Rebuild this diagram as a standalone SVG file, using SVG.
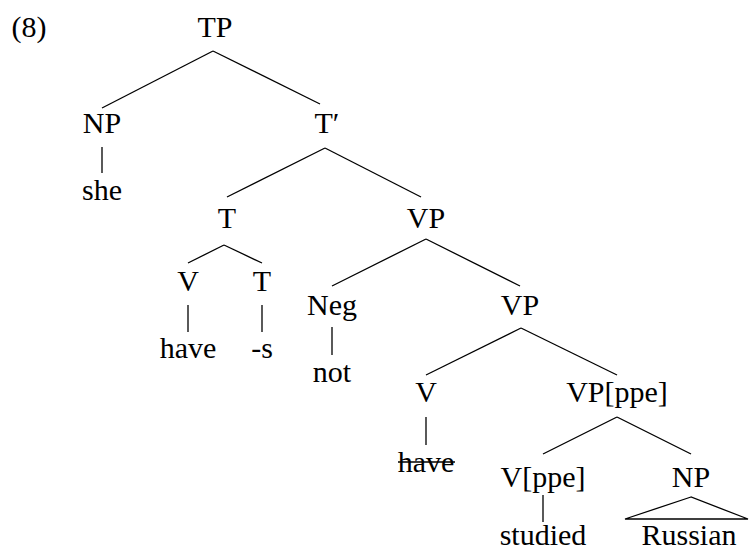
<svg xmlns="http://www.w3.org/2000/svg" width="750" height="551" viewBox="0 0 750 551">
<defs>
<style>
.c{stroke:#000;stroke-width:1.3;fill:none}
</style>
</defs>
<rect width="750" height="551" fill="#fff"/>
<g id="label"><text style="font-family:'Liberation Serif',serif;font-size:30px;text-anchor:middle;fill:#000" x="29" y="37">(8)</text></g>
<g id="TP"><text style="font-family:'Liberation Serif',serif;font-size:30px;text-anchor:middle;fill:#000" x="215" y="37">TP</text></g>
<g id="NP1"><text style="font-family:'Liberation Serif',serif;font-size:30px;text-anchor:middle;fill:#000" x="102" y="133">NP</text></g>
<g id="she"><text style="font-family:'Liberation Serif',serif;font-size:30px;text-anchor:middle;fill:#000" x="102" y="200">she</text></g>
<g id="Tbar"><text style="font-family:'Liberation Serif',serif;font-size:30px;text-anchor:middle;fill:#000" x="327" y="133">T′</text></g>
<g id="T1"><text style="font-family:'Liberation Serif',serif;font-size:30px;text-anchor:middle;fill:#000" x="227" y="228">T</text></g>
<g id="VP1"><text style="font-family:'Liberation Serif',serif;font-size:30px;text-anchor:middle;fill:#000" x="426" y="228">VP</text></g>
<g id="V1"><text style="font-family:'Liberation Serif',serif;font-size:30px;text-anchor:middle;fill:#000" x="188" y="291">V</text></g>
<g id="T2"><text style="font-family:'Liberation Serif',serif;font-size:30px;text-anchor:middle;fill:#000" x="262" y="291">T</text></g>
<g id="have1"><text style="font-family:'Liberation Serif',serif;font-size:30px;text-anchor:middle;fill:#000" x="188" y="358">have</text></g>
<g id="s"><text style="font-family:'Liberation Serif',serif;font-size:30px;text-anchor:middle;fill:#000" x="262" y="358">-s</text></g>
<g id="Neg"><text style="font-family:'Liberation Serif',serif;font-size:30px;text-anchor:middle;fill:#000" x="332" y="315">Neg</text></g>
<g id="not"><text style="font-family:'Liberation Serif',serif;font-size:30px;text-anchor:middle;fill:#000" x="332" y="382">not</text></g>
<g id="VP2"><text style="font-family:'Liberation Serif',serif;font-size:30px;text-anchor:middle;fill:#000" x="520" y="315">VP</text></g>
<g id="V2"><text style="font-family:'Liberation Serif',serif;font-size:30px;text-anchor:middle;fill:#000" x="426" y="402">V</text></g>
<g id="have2"><text style="font-family:'Liberation Serif',serif;font-size:30px;text-anchor:middle;fill:#000" x="426" y="472">have</text><line class="c" x1="398" y1="462" x2="455" y2="462"/></g>
<g id="VPppe"><text style="font-family:'Liberation Serif',serif;font-size:30px;text-anchor:middle;fill:#000" x="617" y="402">VP[ppe]</text></g>
<g id="Vppe"><text style="font-family:'Liberation Serif',serif;font-size:30px;text-anchor:middle;fill:#000" x="543" y="487">V[ppe]</text></g>
<g id="NP2"><text style="font-family:'Liberation Serif',serif;font-size:30px;text-anchor:middle;fill:#000" x="691" y="487">NP</text></g>
<g id="studied"><text style="font-family:'Liberation Serif',serif;font-size:30px;text-anchor:middle;fill:#000" x="543" y="545">studied</text></g>
<g id="Russian"><text style="font-family:'Liberation Serif',serif;font-size:30px;text-anchor:middle;fill:#000" x="689" y="545">Russian</text></g>
<g id="connectors" class="c">
<line x1="213" y1="51" x2="102" y2="108"/>
<line x1="213" y1="51" x2="320" y2="104"/>
<line x1="102" y1="147" x2="102" y2="173"/>
<line x1="325" y1="148" x2="227" y2="197"/>
<line x1="325" y1="148" x2="421" y2="197"/>
<line x1="224" y1="245" x2="188" y2="263"/>
<line x1="224" y1="245" x2="262" y2="263"/>
<line x1="188" y1="305" x2="188" y2="332"/>
<line x1="262" y1="305" x2="262" y2="332"/>
<line x1="426" y1="239" x2="332" y2="286"/>
<line x1="426" y1="239" x2="520" y2="286"/>
<line x1="332" y1="327" x2="332" y2="355"/>
<line x1="521" y1="328" x2="426" y2="375"/>
<line x1="521" y1="328" x2="617" y2="375"/>
<line x1="426" y1="417" x2="426" y2="445"/>
<line x1="617" y1="417" x2="543" y2="454"/>
<line x1="617" y1="417" x2="691" y2="454"/>
<line x1="543" y1="495" x2="543" y2="522"/>
<polygon points="691,497 625,519 748,519"/>
</g>
</svg>
